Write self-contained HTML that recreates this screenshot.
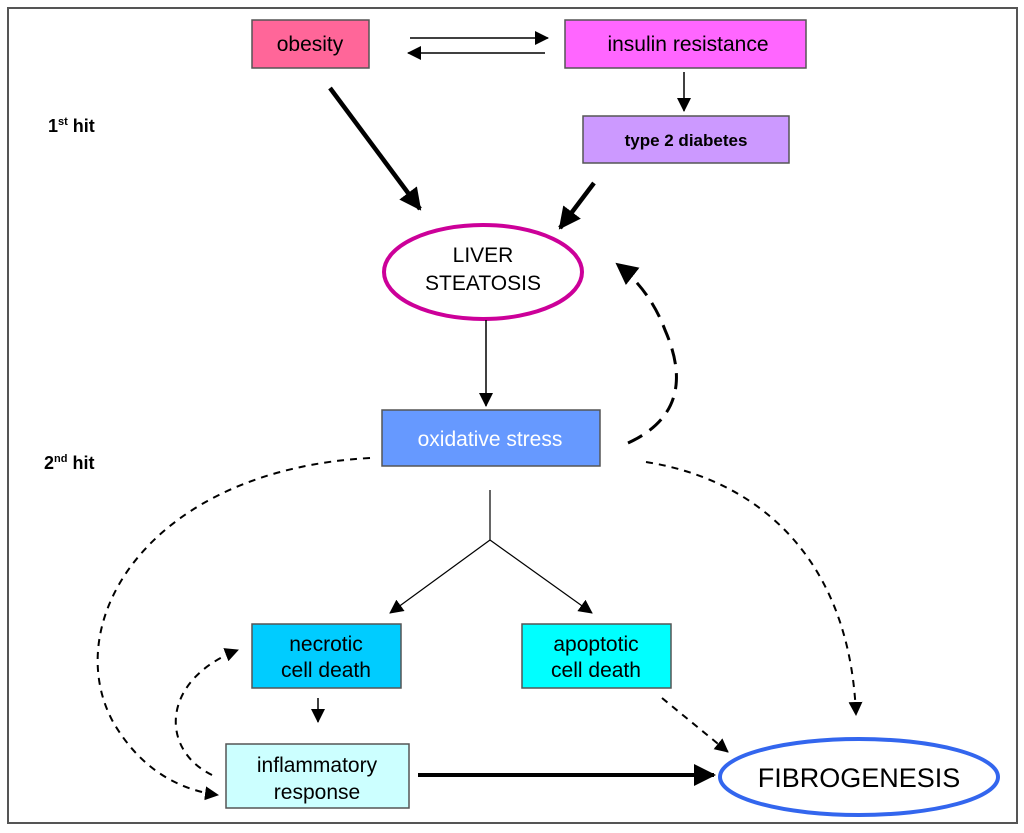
<!DOCTYPE html>
<html><head><meta charset="utf-8"><style>
html,body{margin:0;padding:0;background:#fff;}
svg{display:block;}
text{font-family:"Liberation Sans",sans-serif;}
</style></head><body>
<svg width="1024" height="833" viewBox="0 0 1024 833" xmlns="http://www.w3.org/2000/svg">
<defs>
<marker id="a" markerWidth="10" markerHeight="10" refX="9" refY="5" orient="auto" markerUnits="userSpaceOnUse"><path d="M0,0 L10,5 L0,10 z" fill="#000"/></marker>
<marker id="b" markerWidth="14" markerHeight="14" refX="13" refY="7" orient="auto" markerUnits="userSpaceOnUse"><path d="M0,0 L14,7 L0,14 z" fill="#000"/></marker>
<marker id="c" markerWidth="22" markerHeight="22" refX="20" refY="11" orient="auto" markerUnits="userSpaceOnUse"><path d="M0,0 L22,11 L0,22 z" fill="#000"/></marker>
</defs>
<rect x="8" y="8" width="1009" height="815" fill="#fff" stroke="#555" stroke-width="2"/>
<text x="48" y="132" font-size="18" font-weight="bold">1<tspan font-size="11" dy="-7">st</tspan><tspan dy="7"> hit</tspan></text>
<text x="44" y="469" font-size="18" font-weight="bold">2<tspan font-size="11" dy="-7">nd</tspan><tspan dy="7"> hit</tspan></text>

<rect x="252" y="20" width="117" height="48" fill="#ff6699" stroke="#555" stroke-width="1.5"/>
<text x="310" y="51" font-size="21" text-anchor="middle">obesity</text>
<rect x="565" y="20" width="241" height="48" fill="#ff66ff" stroke="#555" stroke-width="1.5"/>
<text x="688" y="51" font-size="21" text-anchor="middle">insulin resistance</text>
<rect x="583" y="116" width="206" height="47" fill="#cc99ff" stroke="#555" stroke-width="1.5"/>
<text x="686" y="146" font-size="17" font-weight="bold" text-anchor="middle">type 2 diabetes</text>

<line x1="410" y1="38" x2="548" y2="38" stroke="#000" stroke-width="1.5" marker-end="url(#b)"/>
<line x1="545" y1="53" x2="408" y2="53" stroke="#000" stroke-width="1.5" marker-end="url(#b)"/>
<line x1="684" y1="72" x2="684" y2="111" stroke="#000" stroke-width="1.5" marker-end="url(#b)"/>
<line x1="330" y1="88" x2="420" y2="209" stroke="#000" stroke-width="4.5" marker-end="url(#c)"/>
<line x1="594" y1="183" x2="560" y2="228" stroke="#000" stroke-width="4.5" marker-end="url(#c)"/>

<ellipse cx="483" cy="272" rx="99" ry="47" fill="#fff" stroke="#cc0099" stroke-width="4"/>
<text x="483" y="262" font-size="21" text-anchor="middle">LIVER</text>
<text x="483" y="290" font-size="21" text-anchor="middle">STEATOSIS</text>

<line x1="486" y1="320" x2="486" y2="406" stroke="#000" stroke-width="1.5" marker-end="url(#b)"/>
<path d="M628,443 Q700,410 665,330 Q650,290 617,264" fill="none" stroke="#000" stroke-width="3" stroke-dasharray="16,9" marker-end="url(#c)"/>

<rect x="382" y="410" width="218" height="56" fill="#6699ff" stroke="#555" stroke-width="1.5"/>
<text x="490" y="446" font-size="21" fill="#fff" text-anchor="middle">oxidative stress</text>

<path d="M370,458 C150,470 60,620 112,720 C140,770 180,790 218,795" fill="none" stroke="#000" stroke-width="2" stroke-dasharray="7,6" marker-end="url(#b)"/>
<path d="M646,462 C760,480 850,560 856,715" fill="none" stroke="#000" stroke-width="2" stroke-dasharray="7,6" marker-end="url(#b)"/>

<line x1="490" y1="490" x2="490" y2="540" stroke="#000" stroke-width="1.2"/>
<line x1="490" y1="540" x2="390" y2="613" stroke="#000" stroke-width="1.2" marker-end="url(#b)"/>
<line x1="490" y1="540" x2="592" y2="613" stroke="#000" stroke-width="1.2" marker-end="url(#b)"/>

<rect x="252" y="624" width="149" height="64" fill="#00ccff" stroke="#555" stroke-width="1.5"/>
<text x="326" y="651" font-size="21" text-anchor="middle">necrotic</text>
<text x="326" y="677" font-size="21" text-anchor="middle">cell death</text>
<rect x="522" y="624" width="149" height="64" fill="#00ffff" stroke="#555" stroke-width="1.5"/>
<text x="596" y="651" font-size="21" text-anchor="middle">apoptotic</text>
<text x="596" y="677" font-size="21" text-anchor="middle">cell death</text>

<line x1="318" y1="698" x2="318" y2="722" stroke="#000" stroke-width="1.5" marker-end="url(#b)"/>
<path d="M212,775 C160,750 160,680 238,650" fill="none" stroke="#000" stroke-width="2" stroke-dasharray="7,6" marker-end="url(#b)"/>
<line x1="662" y1="698" x2="728" y2="752" stroke="#000" stroke-width="2" stroke-dasharray="7,6" marker-end="url(#b)"/>

<rect x="226" y="744" width="183" height="64" fill="#ccffff" stroke="#555" stroke-width="1.5"/>
<text x="317" y="772" font-size="21" text-anchor="middle">inflammatory</text>
<text x="317" y="799" font-size="21" text-anchor="middle">response</text>

<line x1="418" y1="775" x2="714" y2="775" stroke="#000" stroke-width="4" marker-end="url(#c)"/>

<ellipse cx="859" cy="777" rx="139" ry="38" fill="#fff" stroke="#3366ee" stroke-width="4"/>
<text x="859" y="787" font-size="27" text-anchor="middle">FIBROGENESIS</text>
</svg>
</body></html>
